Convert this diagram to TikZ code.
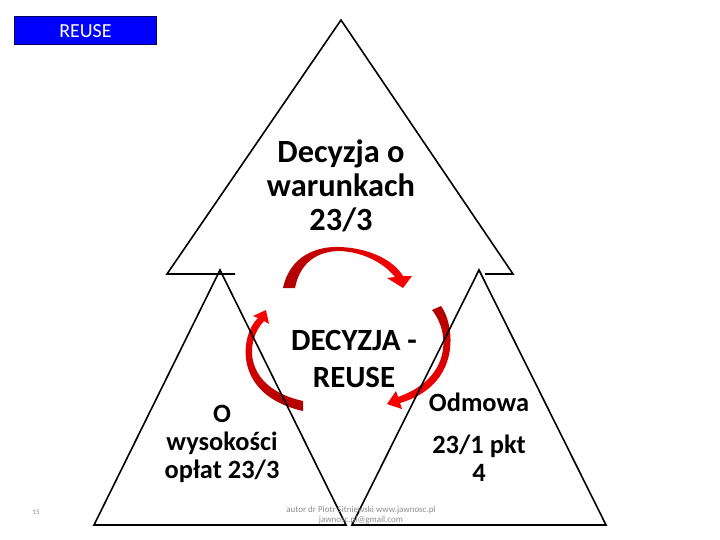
\documentclass[tikz,border=0pt]{standalone}
\usepackage{fontspec}
\setmainfont{Carlito}
\definecolor{arrdark}{RGB}{175,0,0}
\definecolor{arrbright}{RGB}{255,0,0}
\definecolor{footgray}{RGB}{140,140,140}
\tikzset{
  tri/.style={draw=black, line width=1.6bp, line join=miter},
  bigtxt/.style={inner sep=0pt, align=center, font=\bfseries\fontsize{32.5}{34.5}\selectfont},
  ctrtxt/.style={inner sep=0pt, align=center, font=\bfseries\fontsize{31}{38}\selectfont},
  midtxt/.style={inner sep=0pt, align=center, font=\bfseries\fontsize{26.5}{28}\selectfont},
  foot/.style={inner sep=0pt, align=center, text=footgray, font=\fontsize{9}{9.5}\selectfont},
}
\begin{document}
\begin{tikzpicture}[x=1bp,y=-1bp]
\path[use as bounding box] (0,0) rectangle (720,540);
% blue label
\node[draw={rgb,255:red,0;green,0;blue,90}, line width=1bp, fill={rgb,255:red,0;green,0;blue,255},
      minimum width=141bp, minimum height=28bp, inner sep=0pt, text=white,
      font=\fontsize{20}{22}\selectfont] (lab) at (85.5,31) {REUSE};
% circular arrows
\path[left color=arrdark, right color=arrbright]
  (283,288) .. controls (290,255) and (318,246) .. (340,247)
  .. controls (366,248) and (392,258) .. (403,276)
  -- (412,276) -- (403,288) -- (387,278) -- (395,277)
  .. controls (383,262) and (362,252) .. (340,251)
  .. controls (318,251) and (300,262) .. (295,288) -- cycle;
\path[top color=arrbright, bottom color=arrdark]
  (258,318) .. controls (240,335) and (232,395) .. (303,411)
  -- (303,401)
  .. controls (244,388) and (244,342) .. (264,321)
  -- (269,324) -- (266,310) -- (253,316) -- cycle;
\path[top color=arrdark, bottom color=arrbright]
  (441,306) .. controls (455,325) and (462,385) .. (400,403)
  -- (402,409) -- (387,404) -- (396,391) -- (398,397)
  .. controls (452,378) and (450,332) .. (432,310) -- cycle;
% triangles
\coordinate (ta) at (341,20);
\coordinate (tl) at (167,274);
\coordinate (tr) at (513,274);
\draw[tri] (235,274) -- (tl) -- (ta) -- (tr) -- (485,274);
\draw[tri] (220,270) -- (346,525) -- (94,525) -- cycle;
\draw[tri] (479,270) -- (606,525) -- (352,525) -- cycle;
% texts
\node[bigtxt] (top) at (341,186) {Decyzja o\\warunkach\\23/3};
\node[ctrtxt] (mid) at (354,359) {DECYZJA -\\REUSE};
\node[midtxt] (left) at (222,444) {O\\wysokości\\opłat 23/3};
\node[midtxt] (right) at (479,437) {Odmowa\\[14bp]23/1 pkt\\4};
\node[foot, font=\fontsize{7}{8}\selectfont] (num) at (36,512) {15};
\node[foot] (author) at (361,515) {autor dr Piotr Sitniewski www.jawnosc.pl\\jawnosc.pl@gmail.com};
\end{tikzpicture}
\end{document}
